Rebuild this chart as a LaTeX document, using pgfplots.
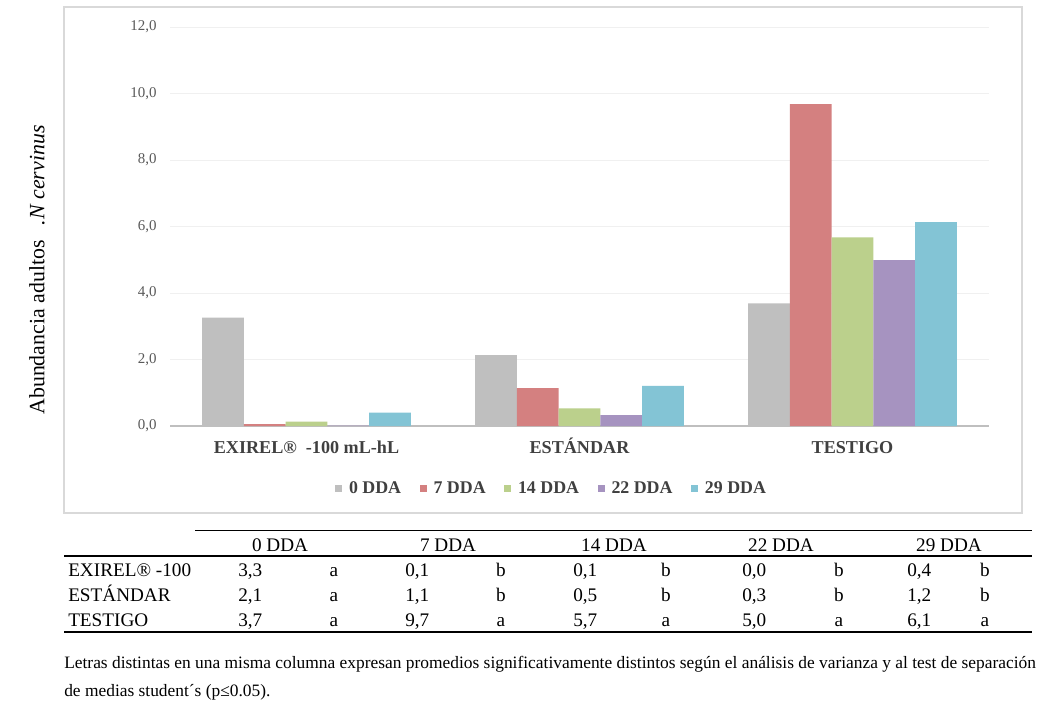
\documentclass[border=0pt]{standalone}
\usepackage{fontspec}
\setmainfont{Liberation Serif}
\usepackage{pgfplots}
\pgfplotsset{compat=1.18}

\definecolor{c0}{RGB}{191,191,191}
\definecolor{c7}{RGB}{212,128,128}
\definecolor{c14}{RGB}{187,208,140}
\definecolor{c22}{RGB}{166,147,192}
\definecolor{c29}{RGB}{131,196,213}
\definecolor{ticktxt}{RGB}{89,89,89}
\definecolor{cattxt}{RGB}{64,64,64}
\definecolor{framegray}{RGB}{217,217,217}
\definecolor{gridgray}{RGB}{240,240,240}
\definecolor{axisgray}{RGB}{191,191,191}

\newcommand{\tabfont}{\fontsize{14.4}{17}\selectfont}
\newcommand{\notefont}{\fontsize{13.05}{16}\selectfont}

\begin{document}
\begin{tikzpicture}
% pixel grid of the reference: 1px = 0.75pt, y downwards
\begin{scope}[x=0.75pt,y=-0.75pt]
  \fill[white] (0,0) rectangle (1054,714);
  \draw[framegray, line width=1.1pt] (64,7) rectangle (1022,513);

  % y label
  \node[rotate=90, font=\fontsize{16.4}{19}\selectfont] at (37,270)
    {Abundancia adultos\hspace{0.7em}\textit{.N cervinus}};

  % table rules
  \draw[line width=0.75pt] (195,530) -- (1032,530);
  \draw[line width=1.7pt] (64,556) -- (1032,556);
  \draw[line width=1.1pt] (64,632) -- (1032,632);

  \begin{scope}[every node/.style={font=\tabfont, inner sep=0pt}]
    % header
    \node[anchor=base] at (280,551) {0 DDA};
    \node[anchor=base] at (448,551) {7 DDA};
    \node[anchor=base] at (614,551) {14 DDA};
    \node[anchor=base] at (781,551) {22 DDA};
    \node[anchor=base] at (949,551) {29 DDA};
    % row 1
    \node[anchor=base west] at (68,576) {EXIREL® -100};
    \node[anchor=base west] at (238,576) {3,3};
    \node[anchor=base] at (334,576) {a};
    \node[anchor=base west] at (405,576) {0,1};
    \node[anchor=base] at (501,576) {b};
    \node[anchor=base west] at (573,576) {0,1};
    \node[anchor=base] at (666,576) {b};
    \node[anchor=base west] at (742,576) {0,0};
    \node[anchor=base] at (839,576) {b};
    \node[anchor=base west] at (907,576) {0,4};
    \node[anchor=base] at (985,576) {b};
    % row 2
    \node[anchor=base west] at (68,601) {ESTÁNDAR};
    \node[anchor=base west] at (238,601) {2,1};
    \node[anchor=base] at (334,601) {a};
    \node[anchor=base west] at (405,601) {1,1};
    \node[anchor=base] at (501,601) {b};
    \node[anchor=base west] at (573,601) {0,5};
    \node[anchor=base] at (666,601) {b};
    \node[anchor=base west] at (742,601) {0,3};
    \node[anchor=base] at (839,601) {b};
    \node[anchor=base west] at (907,601) {1,2};
    \node[anchor=base] at (985,601) {b};
    % row 3
    \node[anchor=base west] at (68,626) {TESTIGO};
    \node[anchor=base west] at (238,626) {3,7};
    \node[anchor=base] at (334,626) {a};
    \node[anchor=base west] at (405,626) {9,7};
    \node[anchor=base] at (501,626) {a};
    \node[anchor=base west] at (573,626) {5,7};
    \node[anchor=base] at (666,626) {a};
    \node[anchor=base west] at (742,626) {5,0};
    \node[anchor=base] at (839,626) {a};
    \node[anchor=base west] at (907,626) {6,1};
    \node[anchor=base] at (985,626) {a};
    % footnote
    \node[anchor=base west, font=\notefont] at (64,668) {Letras distintas en una misma columna expresan promedios significativamente distintos según el análisis de varianza y al test de separación};
    \node[anchor=base west, font=\notefont] at (64,696) {de medias student´s (p≤0.05).};
  \end{scope}
\end{scope}

\begin{axis}[
  at={(127.5pt,-319.5pt)}, anchor=south west,
  scale only axis, width=614.25pt, height=299.25pt,
  ybar=0pt, bar width=31.3pt,
  xmin=-0.5, xmax=2.5, ymin=0, ymax=12,
  xtick={0,1,2},
  xticklabels={EXIREL®\ \ -100 mL-hL, ESTÁNDAR, TESTIGO},
  ytick={0,2,...,12},
  /pgf/number format/assume math mode=true,
  yticklabel={\pgfmathprintnumber[fixed,fixed zerofill,precision=1,use comma]{\tick}},
  major tick length=0pt,
  axis x line*=bottom, axis y line*=left,
  x axis line style={draw=axisgray, line width=1.5pt},
  y axis line style={draw=none},
  ymajorgrids, grid style={draw=gridgray, line width=0.75pt},
  xticklabel style={font=\bfseries\fontsize{13.6}{16}\selectfont, text=cattxt,
    text height=9.6pt, text depth=0pt, yshift=-7.5pt},
  yticklabel style={font=\fontsize{11.2}{13}\selectfont, text=ticktxt, xshift=-6.5pt},
  legend columns=5,
  legend style={at={(0.4664,-0.158)}, anchor=center, draw=none, fill=none,
    font=\bfseries\fontsize{13.4}{16}\selectfont, text=cattxt,
    /tikz/every odd column/.append style={column sep=3pt},
    /tikz/every even column/.append style={column sep=12pt}},
  legend image code/.code={\path[#1, draw=none] (0pt,-2.4pt) rectangle (5.3pt,2.9pt);},
]
\addplot[fill=c0, draw=none] coordinates {(0,3.26) (1,2.13) (2,3.69)};
\addlegendentry{0 DDA}
\addplot[fill=c7, draw=none] coordinates {(0,0.06) (1,1.14) (2,9.68)};
\addlegendentry{7 DDA}
\addplot[fill=c14, draw=none] coordinates {(0,0.13) (1,0.53) (2,5.67)};
\addlegendentry{14 DDA}
\addplot[fill=c22, draw=none] coordinates {(0,0.01) (1,0.33) (2,4.99)};
\addlegendentry{22 DDA}
\addplot[fill=c29, draw=none] coordinates {(0,0.40) (1,1.21) (2,6.13)};
\addlegendentry{29 DDA}
\end{axis}

\pgfresetboundingbox
\path[use as bounding box] (0pt,0pt) rectangle (790.5pt,-535.5pt);
\end{tikzpicture}
\end{document}
